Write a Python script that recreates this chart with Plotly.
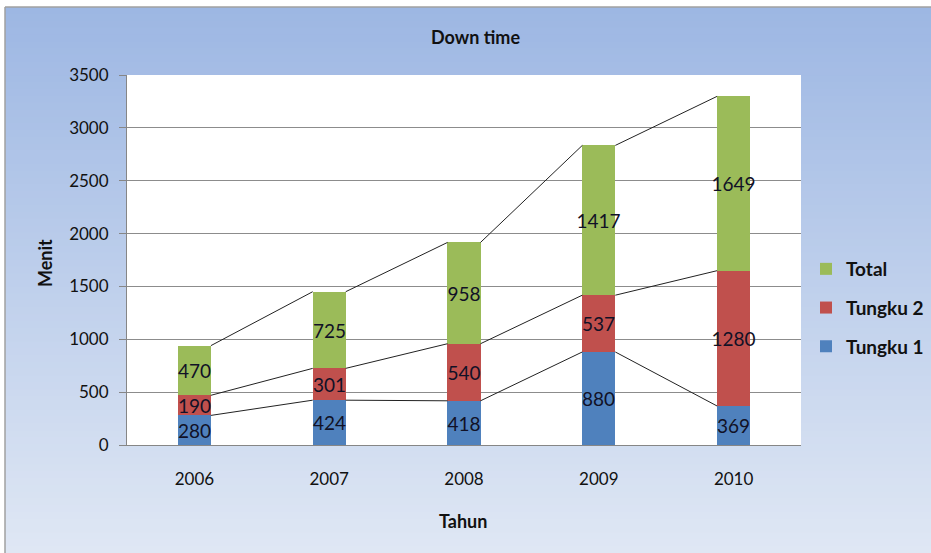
import plotly.graph_objects as go

years = ["2006", "2007", "2008", "2009", "2010"]
tungku1 = [280, 424, 418, 880, 369]
tungku2 = [190, 301, 540, 537, 1280]
total = [470, 725, 958, 1417, 1649]

W, H = 931, 553
def px(x): return x / W
def py(y): return 1 - y / H

FONT = "Lato, 'Open Sans', sans-serif"
BAR_W = 0.245
xs = list(range(len(years)))

fig = go.Figure()

# series lines (connect segment tops between neighbouring bars)
cum = [0] * len(years)
series = [("Tungku 1", tungku1, "#4F81BD"), ("Tungku 2", tungku2, "#C0504D"), ("Total", total, "#9BBB59")]
tops_all = []
for name, vals, col in series:
    cum = [c + v for c, v in zip(cum, vals)]
    tops_all.append(list(cum))
for tops in tops_all:
    lx, ly = [], []
    for i in range(len(years) - 1):
        lx += [xs[i] + BAR_W / 2, xs[i + 1] - BAR_W / 2, None]
        ly += [tops[i], tops[i + 1], None]
    fig.add_trace(go.Scatter(x=lx, y=ly, mode="lines", line=dict(color="#222222", width=1),
                             showlegend=False, hoverinfo="skip"))

for k, (name, vals, col) in enumerate(series):
    fig.add_trace(go.Bar(
        x=xs, y=vals, name=name, marker=dict(color=col, line=dict(width=0)),
        width=BAR_W, text=[str(v) for v in vals], textposition="inside",
        insidetextanchor="middle", textangle=0, constraintext="none",
        textfont=dict(family=FONT, size=19, color="#111126"),
        legendgroup=name, legendrank=3 - k, cliponaxis=False,
    ))

# background gradient
shapes = []
N = 80
top_c = (0x9D, 0xB7, 0xE3)
bot_c = (0xDF, 0xE7, 0xF4)
y0 = 7
for i in range(N):
    t = i / (N - 1)
    c = tuple(round(a + (b - a) * t) for a, b in zip(top_c, bot_c))
    ya = y0 + (H - y0) * i / N
    yb = y0 + (H - y0) * (i + 1) / N + 0.8
    shapes.append(dict(type="rect", xref="paper", yref="paper", x0=px(5), x1=1.0,
                       y0=py(min(yb, H)), y1=py(ya), line=dict(width=0),
                       fillcolor="rgb(%d,%d,%d)" % c, layer="below"))
# plot area white
shapes.append(dict(type="rect", xref="paper", yref="paper", x0=px(127), x1=px(801),
                   y0=py(445), y1=py(75), line=dict(width=0), fillcolor="white", layer="below"))
# outer border
shapes.append(dict(type="line", xref="paper", yref="paper", x0=px(5), x1=1.0, y0=py(7), y1=py(7),
                   line=dict(color="#A0A0A0", width=1.5), layer="below"))
shapes.append(dict(type="line", xref="paper", yref="paper", x0=px(5), x1=px(5), y0=0, y1=py(7),
                   line=dict(color="#A0A0A0", width=1.5), layer="below"))

annotations = [
    dict(text="<b>Down time</b>", x=px(475), y=py(37), xref="paper", yref="paper", showarrow=False,
         xanchor="center", yanchor="middle", font=dict(family=FONT, size=18, color="#111111")),
    dict(text="<b>Menit</b>", x=px(45), y=py(263), xref="paper", yref="paper", showarrow=False,
         xanchor="center", yanchor="middle",
         textangle=-90, font=dict(family=FONT, size=18, color="#111111")),
    dict(text="<b>Tahun</b>", x=px(463), y=py(521), xref="paper", yref="paper", showarrow=False,
         xanchor="center", yanchor="middle", font=dict(family=FONT, size=18, color="#111111")),
]

fig.update_layout(
    template="none",
    width=W, height=H,
    margin=dict(l=0, r=0, t=0, b=0),
    paper_bgcolor="white", plot_bgcolor="rgba(0,0,0,0)",
    barmode="stack", bargap=0,
    shapes=shapes, annotations=annotations,
    font=dict(family=FONT, color="#111111"),
    showlegend=True,
    legend=dict(x=px(806), y=py(250), xanchor="left", yanchor="top",
                bgcolor="rgba(0,0,0,0)", borderwidth=0, traceorder="grouped",
                tracegroupgap=11, itemwidth=30,
                font=dict(family=FONT, size=19, color="#111111", weight="bold")),
    xaxis=dict(domain=[px(127), px(801)], range=[-0.5, 4.5], tickvals=xs, ticktext=years,
               showgrid=False, zeroline=False, showline=True, linecolor="#868686", linewidth=1,
               ticks="", ticklabelstandoff=19, automargin=False,
               tickfont=dict(family=FONT, size=17, color="#111111")),
    yaxis=dict(domain=[py(445), py(75)], range=[0, 3500], dtick=500, showgrid=True,
               gridcolor="#8C8C8C", gridwidth=1, zeroline=False, showline=True,
               linecolor="#868686", linewidth=1, ticks="outside", ticklen=7,
               tickcolor="#868686", automargin=False, ticklabelstandoff=7,
               tickfont=dict(family=FONT, size=17, color="#111111")),
)

fig.write_html("out.html")
